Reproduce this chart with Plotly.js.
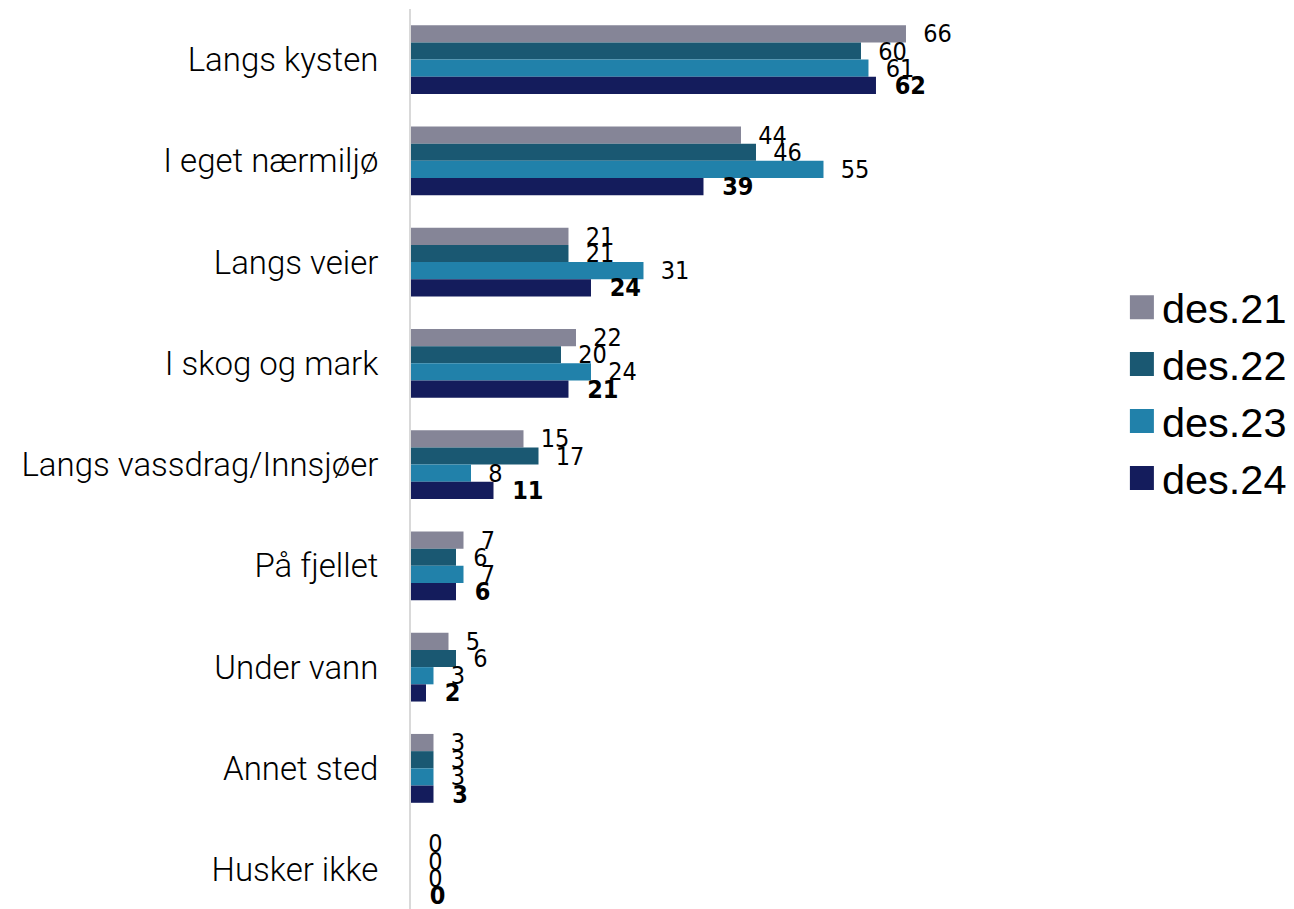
<!DOCTYPE html>
<html><head><meta charset="utf-8">
<script src="https://cdn.plot.ly/plotly-3.0.1.min.js"></script>
<style>body{margin:0;background:#fff}#chart{width:1294px;height:909px}</style>
</head><body><div id="chart"></div>
<script>
const categories = ["Langs kysten","I eget nærmiljø","Langs veier","I skog og mark","Langs vassdrag/Innsjøer","På fjellet","Under vann","Annet sted","Husker ikke"];
const seriesNames = ["des.21","des.22","des.23","des.24"];
const des21 = [66,44,21,22,15,7,5,3,0];
const des22 = [60,46,21,20,17,6,6,3,0];
const des23 = [61,55,31,24,8,7,3,3,0];
const des24 = [62,39,24,21,11,6,2,3,0];
const colors = ["#858597","#1a5872","#2181aa","#141c5c"];

const allValues = [des21,des22,des23,des24];
const labelFont = "'Liberation Sans Narrow','DejaVu Sans Condensed','Roboto Condensed',Roboto,sans-serif";
const traces = allValues.map((vals,i)=>({
  type:'bar', orientation:'h', name:seriesNames[i],
  x:vals, y:categories,
  marker:{color:colors[i], line:{width:0}},
  text:vals.map(v=>'\u00a0\u00a0'+v), textposition:'outside', constraintext:'none', cliponaxis:false,
  textfont:{family:labelFont, size:25, color:'#000', weight: i===3 ? 700 : 400},
  hoverinfo:'none'
}));

const layout = {
  width:1294, height:909,
  margin:{l:411, r:194, t:9, b:0},
  paper_bgcolor:'#fff', plot_bgcolor:'#fff',
  barmode:'group', bargap:0.32, bargroupgap:0,
  xaxis:{range:[0,91.87], showticklabels:false, showgrid:false, zeroline:false, showline:false, ticks:''},
  yaxis:{range:[8.389,-0.5], showgrid:false, zeroline:false, showline:true, linecolor:'#d9d9d9', linewidth:2,
         ticks:'', ticklabelstandoff:24,
         tickfont:{family:"Roboto, 'Liberation Sans', sans-serif", size:33, color:'#000', weight:300}},
  showlegend:true,
  legend:{xref:'container', yref:'container', x:0.867, y:0.568, xanchor:'left', yanchor:'middle',
          font:{family:"'Liberation Sans', Arial, sans-serif", size:41.5, color:'#000'}, itemwidth:30, traceorder:'normal'}
};
Plotly.newPlot('chart', traces, layout, {staticPlot:true}).then(()=>{
  document.querySelectorAll('.legendpoints path').forEach(p=>{
    p.setAttribute('d','M12,12H-12V-12H12Z');
  });
});
</script></body></html>
